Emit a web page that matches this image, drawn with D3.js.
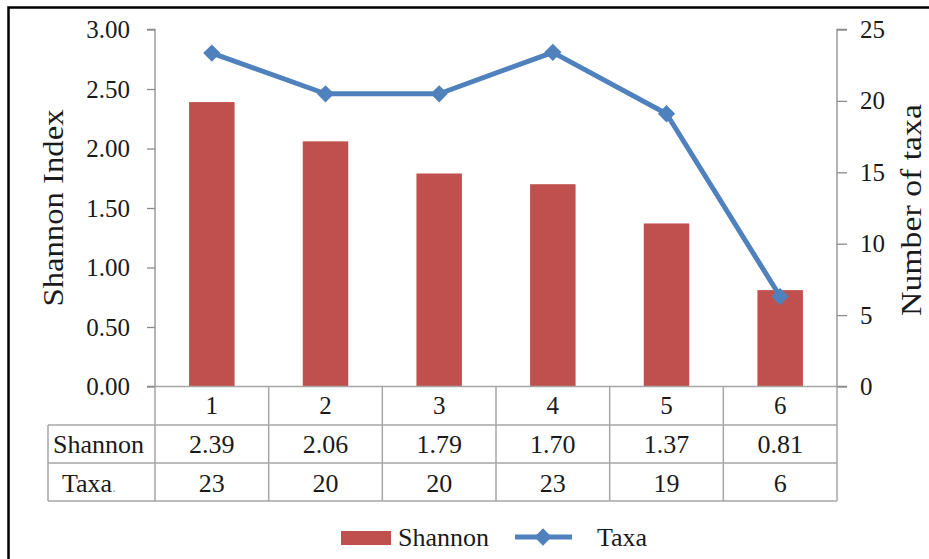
<!DOCTYPE html>
<html>
<head>
<meta charset="utf-8">
<script src="https://cdn.jsdelivr.net/npm/d3@7"></script>
<style>
  html, body { margin: 0; padding: 0; background: #fff; }
  svg { display: block; }
  text { font-family: "Liberation Serif", "Times New Roman", serif; fill: #1a1a1a; }
</style>
</head>
<body>
<svg id="chart" width="929" height="559"></svg>
<script>
// ---- data ----
const categories = ["1", "2", "3", "4", "5", "6"];
const shannon = [2.39, 2.06, 1.79, 1.70, 1.37, 0.81];
const taxaPlotted = [23.35, 20.5, 20.5, 23.4, 19.1, 6.3];
const taxaLabels = ["23", "20", "20", "23", "19", "6"];
const shannonLabels = ["2.39", "2.06", "1.79", "1.70", "1.37", "0.81"];
const leftTicks = [0, 0.5, 1, 1.5, 2, 2.5, 3];
const rightTicks = [0, 5, 10, 15, 20, 25];

(function () {
const svg = d3.select("#chart");
const barColor = "#C0504D", lineColor = "#4F81BD";
const axisColor = "#8c8c8c", gridColor = "#a6a6a6";

const pL = 155, pR = 837, pT = 29.5, pB = 386.5;
const x = d3.scaleBand().domain(categories).range([pL, pR]).paddingInner(0.6).paddingOuter(0.3);
const xc = d3.scaleBand().domain(categories).range([pL, pR]);
const yL = d3.scaleLinear().domain([0, 3]).range([pB, pT]);
const yR = d3.scaleLinear().domain([0, 25]).range([pB, pT]);

// outer border (clipped at right/bottom in reference)
svg.append("path").attr("d", "M8.5,560 V7.5 H930").attr("fill", "none").attr("stroke", "#000").attr("stroke-width", 2.5);

// bars
svg.append("g").selectAll("rect").data(shannon).join("rect")
  .attr("x", (d, i) => x(categories[i]))
  .attr("width", x.bandwidth())
  .attr("y", d => yL(d))
  .attr("height", d => yL(0) - yL(d))
  .attr("fill", barColor);

// left axis
const gL = svg.append("g").attr("transform", `translate(${pL},0)`)
  .call(d3.axisLeft(yL).tickValues(leftTicks).tickFormat(d3.format(".2f")).tickSize(8).tickPadding(17));
gL.selectAll("path, line").attr("stroke", axisColor).attr("stroke-width", 1.3);
gL.select(".domain").attr("d", `M-8,${pT}H0V${pB}H-8`);
gL.selectAll("text").style("font-family", '"Liberation Serif", serif').style("font-size", "25px").attr("fill", "#1a1a1a");

// right axis
const gR = svg.append("g").attr("transform", `translate(${pR},0)`)
  .call(d3.axisRight(yR).tickValues(rightTicks).tickSize(10).tickPadding(13));
gR.selectAll("path, line").attr("stroke", axisColor).attr("stroke-width", 1.3);
gR.select(".domain").attr("d", `M10,${pT}H0V${pB}H10`);
gR.selectAll("text").style("font-family", '"Liberation Serif", serif').style("font-size", "25px").attr("fill", "#1a1a1a");

// line + diamonds
const cx = c => xc(c) + xc.bandwidth() / 2;
const line = d3.line().x((d, i) => cx(categories[i])).y(d => yR(d));
svg.append("path").datum(taxaPlotted).attr("d", line)
  .attr("fill", "none").attr("stroke", lineColor).attr("stroke-width", 5).attr("stroke-linejoin", "round");
const diamond = d3.symbol().type(d3.symbolDiamond2).size(190);
svg.append("g").selectAll("path").data(taxaPlotted).join("path")
  .attr("d", diamond)
  .attr("transform", (d, i) => `translate(${cx(categories[i])},${yR(d)})`)
  .attr("fill", lineColor);

// data table
const rowY = [pB, 425, 463, 501];
const labelLeft = 48;
const tbl = svg.append("g").attr("stroke", gridColor).attr("stroke-width", 1.5);
tbl.append("line").attr("x1", pL).attr("x2", pR).attr("y1", rowY[0]).attr("y2", rowY[0]);
[1, 2, 3].forEach(k => tbl.append("line").attr("x1", labelLeft).attr("x2", pR).attr("y1", rowY[k]).attr("y2", rowY[k]));
categories.forEach(c => tbl.append("line").attr("x1", xc(c)).attr("x2", xc(c)).attr("y1", rowY[0]).attr("y2", rowY[3]));
tbl.append("line").attr("x1", pR).attr("x2", pR).attr("y1", rowY[0]).attr("y2", rowY[3]);
tbl.append("line").attr("x1", labelLeft).attr("x2", labelLeft).attr("y1", rowY[1]).attr("y2", rowY[3]);

svg.append("g").selectAll("text").data(categories).join("text")
  .attr("x", cx).attr("y", 414).attr("text-anchor", "middle").style("font-size", "25px").text(d => d);
svg.append("g").selectAll("text").data(shannonLabels).join("text")
  .attr("x", (d, i) => cx(categories[i])).attr("y", 453).attr("text-anchor", "middle").style("font-size", "26px").text(d => d);
svg.append("g").selectAll("text").data(taxaLabels).join("text")
  .attr("x", (d, i) => cx(categories[i])).attr("y", 492).attr("text-anchor", "middle").style("font-size", "26px").text(d => d);

svg.append("text").attr("x", 53).attr("y", 453).style("font-size", "26px").text("Shannon");
const tx = svg.append("text").attr("x", 62).attr("y", 492).style("font-size", "26px");
tx.append("tspan").text("Taxa");
tx.append("tspan").attr("fill", "#8aa0c8").style("font-size", "14px").text(".");

// axis titles
svg.append("text").attr("transform", "translate(63,208) rotate(-90)").attr("text-anchor", "middle")
  .style("font-size", "30px").attr("textLength", 197).attr("lengthAdjust", "spacingAndGlyphs").text("Shannon Index");
svg.append("text").attr("transform", "translate(921,210) rotate(-90)").attr("text-anchor", "middle")
  .style("font-size", "29px").attr("textLength", 212).attr("lengthAdjust", "spacingAndGlyphs").text("Number of taxa");

// legend
const lg = svg.append("g");
lg.append("rect").attr("x", 341).attr("y", 531).attr("width", 50).attr("height", 14).attr("fill", barColor);
lg.append("text").attr("x", 398).attr("y", 546).style("font-size", "26px").text("Shannon");
lg.append("line").attr("x1", 515).attr("x2", 572).attr("y1", 537).attr("y2", 537).attr("stroke", lineColor).attr("stroke-width", 5);
lg.append("path").attr("d", diamond).attr("transform", "translate(543,537)").attr("fill", lineColor);
lg.append("text").attr("x", 597).attr("y", 546).style("font-size", "26px").text("Taxa");
})();
</script>
</body>
</html>
